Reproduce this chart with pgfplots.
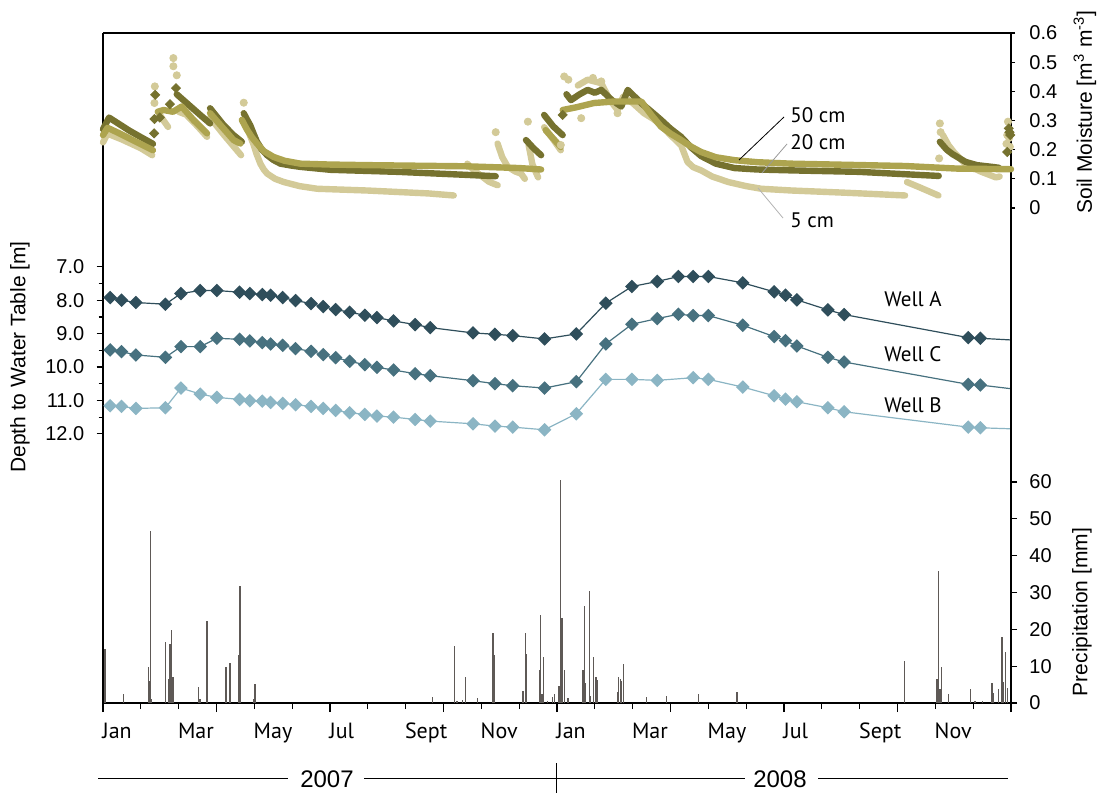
\documentclass[border=0pt]{standalone}
\usepackage{fontspec}
\setmainfont{Liberation Sans}
\newfontfamily\myriad{PT Sans}
\usepackage{pgfplots}
\pgfplotsset{compat=1.18}
\definecolor{smfive}{HTML}{D3CA98}
\definecolor{smtwenty}{HTML}{ADA44F}
\definecolor{smfifty}{HTML}{76722F}
\definecolor{wellA}{HTML}{2F4E5B}
\definecolor{wellC}{HTML}{47717F}
\definecolor{wellB}{HTML}{8BB5C4}
\definecolor{rain}{HTML}{5E5956}
\pgfplotsset{
  base/.style={at={(0,0)}, anchor=south west, width=454pt, height=335pt, scale only axis,
    xmin=0, xmax=24, clip=false, axis line style={line width=1pt},
    tick style={line width=0.6pt, black}, tick align=outside,
    /pgf/number format/assume math mode=true,
    ticklabel style={font=\fontsize{10}{12}\selectfont}},
  smline/.style={line width=3.2pt, line cap=round, line join=round, no marks},
}
\begin{document}
\begin{tikzpicture}
\useasboundingbox (-51.5pt,-45.5pt) rectangle (500.5pt,351.5pt);
% ---------- x axis (months) ----------
\begin{axis}[base, hide y axis, axis x line*=bottom, ymin=0, ymax=1,
  xtick={0,3,...,24}, xticklabels={}, major tick length=4.5pt,
  minor xtick={1,2,4,5,7,8,10,11,13,14,16,17,19,20,22,23}, minor tick length=3pt,
  extra x ticks={0,2,...,22},
  extra x tick labels={Jan,Mar,May,Jul,Sept,Nov,Jan,Mar,May,Jul,Sept,Nov},
  extra x tick style={major tick length=0pt,
    xticklabel style={anchor=base west, inner sep=0pt, xshift=-0.5pt, yshift=-17.75pt,
      font=\myriad\fontsize{11}{13}\selectfont}},
]
\end{axis}
% ---------- precipitation ----------
\begin{axis}[base, hide x axis, axis y line*=right, ymin=0, ymax=181.9,
  ytick={0,10,...,60}, major tick length=3pt,
  yticklabel style={anchor=west, inner sep=0pt, xshift=6pt}]
\addplot[ycomb, rain, line width=0.65pt, no marks] coordinates {
(0.03,4.0) (0.05,14.7) (0.54,2.5) (1.20,9.7) (1.22,6.0) (1.26,46.6) (1.29,1.0)
(1.65,16.5) (1.73,6.6) (1.77,15.9) (1.81,19.9) (1.85,7.1) (2.53,4.3) (2.56,1.0)
(2.75,22.2) (3.25,9.7) (3.36,10.8) (3.58,13.1) (3.62,31.8) (3.98,1.0) (4.02,5.1)
(8.71,1.7) (9.29,15.4) (9.36,0.5) (9.50,0.8) (9.58,7.0) (9.90,1.4) (10.31,19.0)
(10.34,13.0) (11.10,3.2) (11.17,19.0) (11.20,13.4) (11.53,8.9) (11.56,24.0)
(11.60,2.4) (11.64,12.5) (11.75,0.5) (11.89,1.5) (11.93,2.4)
(12.05,4.7) (12.10,60.5) (12.13,23.2) (12.19,9.0) (12.29,1.4) (12.69,9.0)
(12.72,26.4) (12.75,5.3) (12.85,30.4) (12.89,2.0) (12.97,12.4) (13.03,7.0)
(13.06,6.2) (13.60,2.9) (13.63,7.1) (13.67,6.5) (13.71,5.9) (13.75,10.6)
(14.37,1.5) (14.90,2.0) (15.74,2.5) (16.76,3.0) (21.18,11.5) (22.04,6.5)
(22.08,35.8) (22.12,3.7) (22.16,9.7) (22.35,2.5) (22.93,3.7) (23.05,0.5)
(23.25,0.5) (23.50,5.5) (23.54,2.8) (23.67,3.7) (23.76,18.0) (23.80,5.7)
(23.86,13.9) (23.90,4.0)
};
\end{axis}
% ---------- wells ----------
\begin{axis}[base, hide x axis, axis y line*=left, y dir=reverse, ymin=0, ymax=20.06,
  ytick={7,...,12}, minor ytick={7.5,8.5,9.5,10.5,11.5},
  major tick length=3.2pt, minor tick length=2.2pt,
  yticklabel style={anchor=east, inner sep=0pt, xshift=-6pt,
    /pgf/number format/.cd, fixed, fixed zerofill, precision=1}]
\draw[line width=1pt] (rel axis cs:0,1) -- (rel axis cs:1,1);
\addplot[wellA, line width=0.6pt, mark=square*, mark size=2.1pt,
  mark options={rotate=45, draw=wellA, fill=wellA}] coordinates {
(0.19,7.92) (0.49,8.00) (0.87,8.07) (1.65,8.12) (2.06,7.80) (2.57,7.71) (3.01,7.71)
(3.61,7.76) (3.88,7.80) (4.21,7.83) (4.43,7.85) (4.75,7.92) (5.09,8.01) (5.50,8.10)
(5.82,8.19) (6.15,8.28) (6.52,8.36) (6.92,8.45) (7.24,8.52) (7.68,8.62) (8.25,8.73)
(8.65,8.82) (9.78,8.98) (10.36,9.02) (10.83,9.06) (11.67,9.16) (12.51,9.01)
(13.29,8.09) (13.98,7.59) (14.65,7.44) (15.21,7.29) (15.60,7.29) (16.00,7.29)
(16.91,7.48) (17.74,7.75) (18.04,7.85) (18.34,7.99) (19.16,8.29) (19.59,8.43)
(22.87,9.12) (23.19,9.14)};
\addplot[wellA, line width=0.6pt, no marks] coordinates {(23.19,9.14) (24,9.19)};
\addplot[wellC, line width=0.6pt, mark=square*, mark size=2.1pt,
  mark options={rotate=45, draw=wellC, fill=wellC}] coordinates {
(0.19,9.49) (0.49,9.54) (0.87,9.64) (1.65,9.71) (2.06,9.39) (2.57,9.39) (3.01,9.14)
(3.61,9.17) (3.88,9.22) (4.21,9.27) (4.43,9.31) (4.75,9.35) (5.09,9.45) (5.50,9.53)
(5.82,9.63) (6.15,9.72) (6.52,9.83) (6.92,9.93) (7.24,10.01) (7.68,10.09) (8.25,10.20)
(8.65,10.26) (9.78,10.41) (10.36,10.50) (10.83,10.56) (11.67,10.63) (12.51,10.44)
(13.29,9.31) (13.98,8.72) (14.65,8.55) (15.21,8.42) (15.60,8.46) (16.00,8.46)
(16.91,8.75) (17.74,9.09) (18.04,9.21) (18.34,9.37) (19.16,9.71) (19.59,9.85)
(22.87,10.52) (23.19,10.54)};
\addplot[wellC, line width=0.6pt, no marks] coordinates {(23.19,10.54) (24,10.65)};
\addplot[wellB, line width=0.6pt, mark=square*, mark size=2.1pt,
  mark options={rotate=45, draw=wellB, fill=wellB}] coordinates {
(0.19,11.16) (0.49,11.18) (0.87,11.24) (1.65,11.22) (2.06,10.63) (2.57,10.81)
(3.01,10.91) (3.61,10.97) (3.88,11.01) (4.21,11.02) (4.43,11.06) (4.75,11.09)
(5.09,11.13) (5.50,11.18) (5.82,11.24) (6.15,11.30) (6.52,11.37) (6.92,11.42)
(7.24,11.47) (7.68,11.50) (8.25,11.57) (8.65,11.62) (9.78,11.70) (10.36,11.77)
(10.83,11.80) (11.67,11.88) (12.51,11.40) (13.29,10.37) (13.98,10.37) (14.65,10.40)
(15.60,10.32) (16.00,10.37) (16.91,10.60) (17.74,10.86) (18.04,10.96) (18.34,11.04)
(19.16,11.22) (19.59,11.34) (22.87,11.80) (23.19,11.82)};
\addplot[wellB, line width=0.6pt, no marks] coordinates {(23.19,11.82) (24,11.85)};
\end{axis}
% ---------- soil moisture ----------
\begin{axis}[base, hide x axis, axis y line*=right, ymin=-1.697, ymax=0.6,
  ytick={0,0.1,0.2,0.3,0.4,0.5,0.6}, major tick length=2pt, unbounded coords=jump,
  yticklabel style={anchor=west, inner sep=0pt, xshift=7pt}]
% 5 cm
\addplot[smfive, smline] coordinates {
(0.0,0.225) (0.12,0.255) (0.5,0.235) (1.0,0.205) (1.3,0.181) (1.3,nan)
(1.45,0.33) (1.6,0.30) (1.72,0.278) (1.72,nan)
(2.0,0.33) (2.2,0.32) (2.5,0.28) (2.75,0.244) (2.75,nan)
(2.83,0.31) (3.2,0.25) (3.5,0.204) (3.65,0.181) (3.65,nan)
(3.72,0.30) (3.85,0.26) (3.97,0.221) (4.06,0.185) (4.16,0.152) (4.25,0.132) (4.34,0.118) (4.55,0.1) (4.78,0.089) (5.2,0.075) (5.66,0.066) (6.98,0.06) (7.78,0.055) (8.6,0.05) (9.27,0.043) (9.27,nan)
(9.63,0.152) (9.8,0.13) (10.0,0.11) (10.2,0.09) (10.43,0.078) (10.43,nan)
(10.43,0.221) (10.55,0.175) (10.7,0.141) (10.9,0.125) (11.05,0.118) (11.15,0.1) (11.15,nan)
(11.25,0.215) (11.35,0.15) (11.5,0.105) (11.5,nan)
(11.66,0.277) (11.9,0.235) (12.1,0.198) (12.1,nan)
(12.55,0.42) (12.81,0.44) (13.17,0.428) (13.4,0.37) (13.6,0.336) (13.75,0.382) (14.0,0.36) (14.3,0.325) (14.55,0.305) (14.75,0.284) (15.0,0.25) (15.28,0.215) (15.45,0.158) (15.6,0.14) (15.81,0.129) (16.1,0.108) (16.53,0.089) (17.0,0.075) (17.4,0.066) (18.2,0.06) (19.7,0.052) (21.2,0.043) (21.2,nan)
(21.25,0.089) (21.6,0.07) (22.08,0.043) (22.08,nan)
(22.2,0.25) (22.35,0.215) (22.5,0.19) (22.8,0.15) (23.2,0.125) (23.6,0.105) (23.7,0.108)
};
\addplot[only marks, mark=*, mark size=1.8pt, mark options={draw=smfive, fill=smfive}] coordinates {
(1.37,0.417) (1.36,0.36) (1.86,0.514) (1.86,0.486) (1.95,0.455) (3.72,0.361)
(10.38,0.26) (11.23,0.296) (12.19,0.451) (12.95,0.446) (13.17,0.434) (12.64,0.308)
(12.1,0.216) (13.6,0.325) (22.12,0.29) (22.14,0.26) (22.1,0.17) (23.92,0.296)
(23.9,0.25) (23.88,0.22) (23.97,0.21) (23.95,0.24) (12.3,0.44)};
% 50 cm
\addplot[smfifty, smline] coordinates {
(0.0,0.27) (0.16,0.31) (0.4,0.29) (0.7,0.265) (1.0,0.243) (1.32,0.22) (1.32,nan)
(1.95,0.39) (2.22,0.359) (2.57,0.319) (2.83,0.29) (2.83,nan)
(2.83,0.342) (3.19,0.284) (3.45,0.25) (3.67,0.227) (3.67,nan)
(3.72,0.325) (3.8,0.305) (3.89,0.284) (3.98,0.255) (4.07,0.227) (4.2,0.2) (4.34,0.181) (4.5,0.165) (4.69,0.152) (5.0,0.145) (5.22,0.141) (6.01,0.131) (7.78,0.124) (9.54,0.114) (10.38,0.109) (10.38,nan)
(11.18,0.233) (11.38,0.205) (11.58,0.181) (11.58,nan)
(11.66,0.319) (11.9,0.28) (12.15,0.25) (12.15,nan)
(12.25,0.39) (12.37,0.37) (12.6,0.39) (12.81,0.405) (13.0,0.395) (13.17,0.405) (13.45,0.37) (13.7,0.348) (13.87,0.405) (14.23,0.359) (14.5,0.33) (14.75,0.302) (15.0,0.272) (15.28,0.244) (15.55,0.207) (15.81,0.178) (16.2,0.152) (16.69,0.137) (17.3,0.132) (18.2,0.129) (19.97,0.124) (22.09,0.11) (22.09,nan)
(22.12,0.227) (22.3,0.2) (22.45,0.185) (22.8,0.158) (23.1,0.147) (23.5,0.141) (23.68,0.138)
};
\addplot[only marks, mark=square*, mark size=1.6pt, mark options={rotate=45, draw=smfifty, fill=smfifty}] coordinates {
(1.35,0.256) (1.36,0.305) (1.38,0.388) (1.5,0.31) (1.77,0.356) (1.93,0.411)
(12.15,0.319) (23.9,0.192) (23.94,0.273) (23.96,0.26) (23.98,0.25)};
% 20 cm
\addplot[smtwenty, smline] coordinates {
(0.0,0.25) (0.12,0.275) (0.4,0.258) (0.8,0.232) (1.32,0.198) (1.32,nan)
(1.45,0.33) (1.6,0.336) (1.85,0.33) (2.08,0.348) (2.39,0.302) (2.75,0.256) (2.75,nan)
(2.83,0.325) (3.2,0.27) (3.45,0.233) (3.63,0.221) (3.63,nan)
(3.67,0.302) (3.8,0.27) (3.95,0.24) (4.07,0.221) (4.25,0.195) (4.51,0.175) (4.8,0.162) (5.22,0.152) (6.0,0.149) (6.98,0.147) (9.6,0.143) (11.0,0.137) (11.58,0.132) (11.58,nan)
(11.7,0.267) (12.1,0.209) (12.1,nan)
(12.15,0.336) (12.5,0.345) (12.98,0.36) (13.5,0.365) (14.23,0.365) (14.5,0.318) (14.75,0.279) (15.0,0.255) (15.28,0.233) (15.55,0.21) (15.81,0.192) (16.2,0.174) (16.69,0.164) (17.3,0.157) (18.2,0.152) (21.2,0.144) (22.6,0.135) (24.0,0.133)
};
\end{axis}
% ---------- annotations ----------
\node[rotate=90, font=\fontsize{10.5}{12}\selectfont] at (-41.5pt,173pt) {Depth to Water Table [m]};
\node[rotate=90, font=\fontsize{10.5}{12}\selectfont] at (491pt,295.5pt) {Soil Moisture [m\textsuperscript{3} m\textsuperscript{-3}]};
\node[rotate=90, font=\fontsize{10.5}{12}\selectfont] at (489.5pt,45.5pt) {Precipitation [mm]};
\begin{scope}[font=\myriad\fontsize{10.5}{12}\selectfont]
\node[anchor=base west, inner sep=0pt] at (390.5pt,198pt) {Well A};
\node[anchor=base west, inner sep=0pt] at (390.5pt,171pt) {Well C};
\node[anchor=base west, inner sep=0pt] at (390.5pt,145.5pt) {Well B};
\node[anchor=base west, inner sep=0pt] at (343.5pt,290pt) {50 cm};
\node[anchor=base west, inner sep=0pt] at (343.5pt,276.5pt) {20 cm};
\node[anchor=base west, inner sep=0pt] at (343.5pt,237.5pt) {5 cm};
\end{scope}
\draw[black, line width=0.4pt] (340.5pt,293pt) -- (318pt,271.5pt);
\draw[black!40, line width=0.4pt] (342pt,279.5pt) -- (329.5pt,265pt);
\draw[black!30, line width=0.4pt] (340pt,242.5pt) -- (327.5pt,257.5pt);
% years
\draw[line width=0.5pt] (-2.5pt,-37.5pt) -- (92.25pt,-37.5pt);
\draw[line width=0.5pt] (130.5pt,-37.5pt) -- (321pt,-37.5pt);
\draw[line width=0.5pt] (226.5pt,-30pt) -- (226.5pt,-45pt);
\draw[line width=0.5pt] (357.5pt,-37.5pt) -- (452.5pt,-37.5pt);
\node[anchor=base, inner sep=0pt, font=\fontsize{12}{14}\selectfont] at (112pt,-42pt) {2007};
\node[anchor=base, inner sep=0pt, font=\fontsize{12}{14}\selectfont] at (338.5pt,-42pt) {2008};
\end{tikzpicture}
\end{document}
